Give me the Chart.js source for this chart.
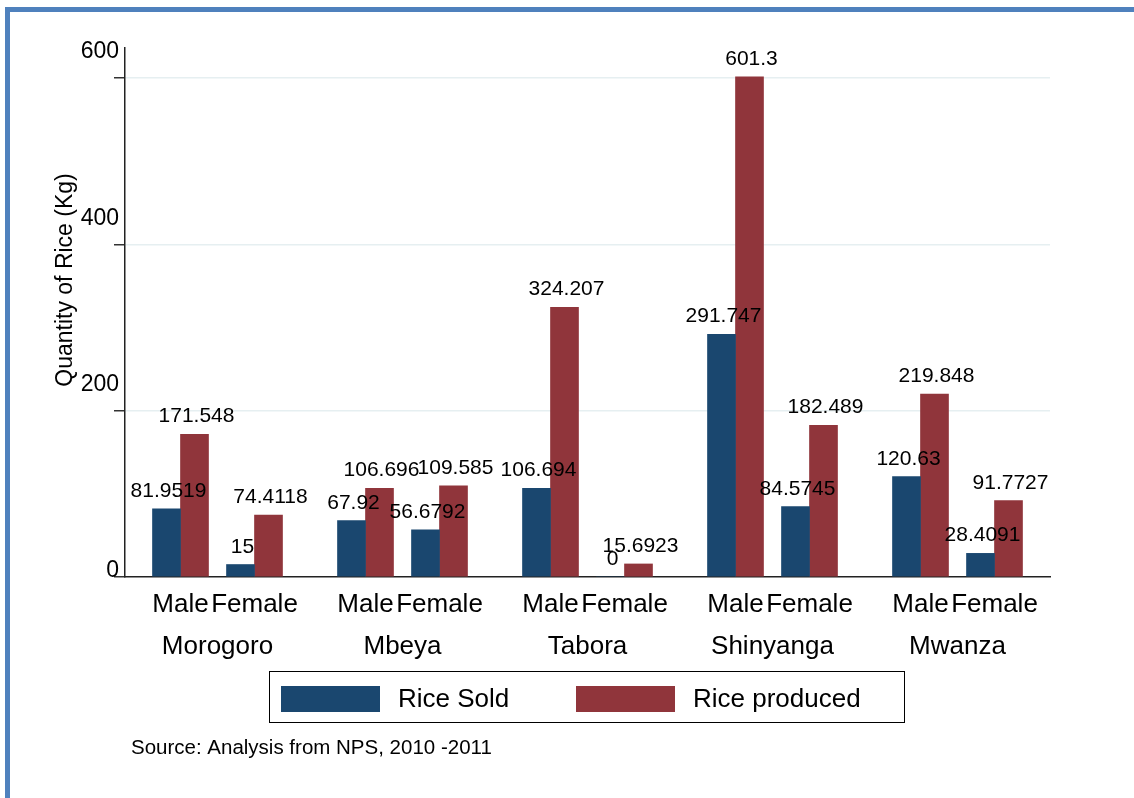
<!DOCTYPE html>
<html>
<head>
<meta charset="utf-8">
<script src="https://cdn.jsdelivr.net/npm/chart.js@4"></script>
<style>
  html, body { margin: 0; padding: 0; background: #fff; }
  #wrap { position: relative; width: 1134px; height: 798px; overflow: hidden; }
  #chart { position: absolute; left: 0; top: 0; }
  #frame {
    position: absolute; left: 5px; top: 7px; width: 1129px; height: 791px;
    border-top: 5px solid #4f81bd; border-left: 5px solid #4f81bd;
    box-sizing: border-box; pointer-events: none;
  }
</style>
</head>
<body>
<div id="wrap">
  <canvas id="chart" width="1134" height="798"></canvas>
  <div id="frame"></div>
</div>
<script>
const colorSold = '#1a476f';
const colorProduced = '#90353b';

const regions = ['Morogoro', 'Mbeya', 'Tabora', 'Shinyanga', 'Mwanza'];
const genders = ['Male', 'Female'];
// one value per region/gender, in the order Male, Female
const riceSold = [81.9519, 15, 67.92, 56.6792, 106.694, 0, 291.747, 84.5745, 120.63, 28.4091];
const riceProduced = [171.548, 74.4118, 106.696, 109.585, 324.207, 15.6923, 601.3, 182.489, 219.848, 91.7727];
const yTicks = [0, 200, 400, 600];
const yTitle = 'Quantity of Rice (Kg)';
const sourceNote = 'Source: Analysis from NPS, 2010 -2011';

const fontFamily = "'Liberation Sans', Arial, Helvetica, sans-serif";
Chart.defaults.font.family = fontFamily;
Chart.defaults.color = '#000';

// category slots: spacer, then Male / region / Female per region, spacers between
const labels = [''];
const soldData = [null];
const producedData = [null];
regions.forEach((region, i) => {
  if (i > 0) {
    labels.push('', '');
    soldData.push(null, null);
    producedData.push(null, null);
  }
  labels.push(genders[0]);
  soldData.push(riceSold[i * 2]);
  producedData.push(riceProduced[i * 2]);
  labels.push(['', region]);
  soldData.push(null);
  producedData.push(null);
  labels.push(genders[1]);
  soldData.push(riceSold[i * 2 + 1]);
  producedData.push(riceProduced[i * 2 + 1]);
});
labels.push('');
soldData.push(null);
producedData.push(null);

const extras = {
  id: 'extras',
  afterDatasetsDraw(chart) {
    const ctx = chart.ctx;
    ctx.save();
    ctx.fillStyle = '#000';
    ctx.font = '21px ' + fontFamily;
    ctx.textAlign = 'center';
    ctx.textBaseline = 'alphabetic';
    chart.data.datasets.forEach((ds, di) => {
      chart.getDatasetMeta(di).data.forEach((bar, i) => {
        const v = ds.data[i];
        if (v === null) return;
        ctx.fillText(String(v), bar.x + 2, bar.y - 12);
      });
    });
    ctx.restore();
  },
  afterDraw(chart) {
    const ctx = chart.ctx;
    const y = chart.scales.y;
    ctx.save();
    ctx.fillStyle = '#000';

    // y tick labels, sitting above their ticks like the original
    ctx.font = '23px ' + fontFamily;
    ctx.textAlign = 'right';
    ctx.textBaseline = 'middle';
    yTicks.forEach(v => {
      const lift = v === 0 ? 6 : 26;
      ctx.fillText(String(v), 119, y.getPixelForValue(v) - lift);
    });

    // y title
    ctx.save();
    ctx.translate(66, 280);
    ctx.rotate(-Math.PI / 2);
    ctx.textAlign = 'center';
    ctx.fillText(yTitle, 0, 0);
    ctx.restore();

    // legend box
    ctx.strokeStyle = '#000';
    ctx.lineWidth = 1;
    ctx.strokeRect(269.5, 671.5, 635, 51);
    ctx.font = '26px ' + fontFamily;
    ctx.textAlign = 'left';
    chart.data.datasets.forEach((ds, i) => {
      const x = 281 + i * 295;
      ctx.fillStyle = ds.backgroundColor;
      ctx.fillRect(x, 686, 99, 26);
      ctx.fillStyle = '#000';
      ctx.fillText(ds.label, x + 117, 700);
    });

    // source note
    ctx.font = '20.5px ' + fontFamily;
    ctx.textBaseline = 'alphabetic';
    ctx.fillText(sourceNote, 131, 754);
    ctx.restore();
  }
};

new Chart(document.getElementById('chart'), {
  type: 'bar',
  data: {
    labels: labels,
    datasets: [
      { label: 'Rice Sold', data: soldData, backgroundColor: colorSold },
      { label: 'Rice produced', data: producedData, backgroundColor: colorProduced }
    ]
  },
  options: {
    responsive: false,
    devicePixelRatio: 1,
    animation: false,
    barThickness: 28,
    layout: { padding: { top: 48, right: 84, left: 0, bottom: 0 } },
    plugins: {
      legend: { display: false },
      tooltip: { enabled: false }
    },
    scales: {
      x: {
        offset: true,
        grid: { display: false, drawTicks: false },
        border: { display: true, color: '#222', width: 1.5 },
        ticks: {
          autoSkip: false,
          maxRotation: 0,
          padding: 7,
          color: '#000',
          font: { size: 26, lineHeight: 1.6 }
        },
        afterFit(scale) { scale.height = 221; }
      },
      y: {
        min: 0,
        max: 636,
        grid: {
          color: c => (c.tick && c.tick.value === 0 ? 'rgba(0,0,0,0)' : '#e6eff1'),
          lineWidth: 1.5,
          tickColor: '#333',
          tickLength: 11,
          tickWidth: 1.5
        },
        border: { display: true, color: '#222', width: 1.5 },
        ticks: { display: false },
        afterBuildTicks(scale) { scale.ticks = yTicks.map(v => ({ value: v })); },
        afterFit(scale) { scale.width = 125; }
      }
    }
  },
  plugins: [extras]
});
</script>
</body>
</html>
